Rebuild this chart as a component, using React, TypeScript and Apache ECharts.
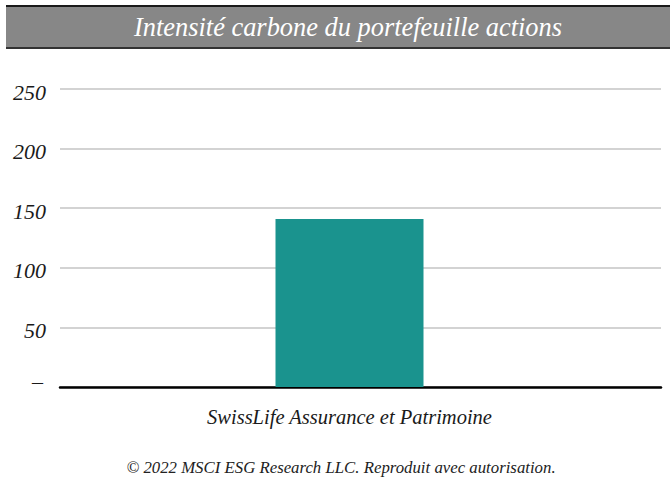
import React, { useEffect, useRef } from "react";
import * as echarts from "echarts";

const TITLE = "Intensité carbone du portefeuille actions";
const SOURCE = "© 2022 MSCI ESG Research LLC. Reproduit avec autorisation.";
const categories = ["SwissLife Assurance et Patrimoine"];
const values = [141];
const yTicks = [0, 50, 100, 150, 200, 250];

const FONT = "Liberation Serif";

export default function App() {
  const ref = useRef<HTMLDivElement>(null);
  useEffect(() => {
    if (!ref.current) return;
    const chart = echarts.init(ref.current, null, { renderer: "svg" });
    const yMax = yTicks[yTicks.length - 1];
    chart.setOption({
      animation: false,
      backgroundColor: "#ffffff",
      graphic: [
        { type: "rect", shape: { x: 6, y: 5, width: 664, height: 44 }, style: { fill: "#878787" } },
        { type: "rect", shape: { x: 6, y: 5, width: 664, height: 2 }, style: { fill: "#1a1a1a" } },
        { type: "rect", shape: { x: 6, y: 47, width: 664, height: 2 }, style: { fill: "#333333" } },
        {
          type: "text",
          x: 348,
          y: 27,
          style: {
            text: TITLE,
            fill: "#ffffff",
            fontFamily: FONT,
            fontStyle: "italic",
            fontSize: 26.4,
            align: "center",
            verticalAlign: "middle",
          },
        },
        {
          type: "text",
          x: 341,
          y: 467,
          style: {
            text: SOURCE,
            fill: "#222222",
            fontFamily: FONT,
            fontStyle: "italic",
            fontSize: 16.8,
            align: "center",
            verticalAlign: "middle",
          },
        },
      ],
      grid: [
        { left: 60, right: 9, top: 89, bottom: 92 },
        { left: 38, right: 9, top: 89, bottom: 92 },
      ],
      xAxis: [
        {
          type: "category",
          gridIndex: 0,
          data: categories,
          axisLine: { show: true, lineStyle: { color: "#000000", width: 2.5 } },
          axisTick: { show: false },
          axisLabel: { show: false },
        },
        {
          type: "category",
          gridIndex: 1,
          data: categories,
          axisLine: { show: false },
          axisTick: { show: false },
          axisLabel: {
            color: "#1a1a1a",
            fontFamily: FONT,
            fontStyle: "italic",
            fontSize: 20.5,
            margin: 20,
          },
        },
      ],
      yAxis: [
        {
          type: "value",
          gridIndex: 0,
          min: 0,
          max: yMax,
          interval: 50,
          axisLine: { show: false },
          axisTick: { show: false },
          splitLine: { lineStyle: { color: "#c4c4c4", width: 1.5 } },
          axisLabel: {
            color: "#1a1a1a",
            fontFamily: FONT,
            fontStyle: "italic",
            fontSize: 22,
            margin: 14,
            padding: [6, 0, 0, 0],
            formatter: (v: number) => (v === 0 ? "{d|–}" : String(v)),
            rich: {
              d: {
                color: "#1a1a1a",
                fontFamily: FONT,
                fontStyle: "italic",
                fontSize: 22,
                padding: [0, 3, 18, 0],
              },
            },
          },
        },
        {
          type: "value",
          gridIndex: 1,
          min: 0,
          max: yMax,
          interval: 50,
          show: false,
          splitLine: { show: false },
        },
      ],
      series: [
        {
          type: "bar",
          xAxisIndex: 1,
          yAxisIndex: 1,
          data: values,
          barWidth: 148,
          itemStyle: { color: "#1a938e" },
          z: 3,
        },
      ],
    });
    return () => chart.dispose();
  }, []);
  return <div ref={ref} style={{ width: 670, height: 479, position: "absolute", left: 0, top: 0 }} />;
}
